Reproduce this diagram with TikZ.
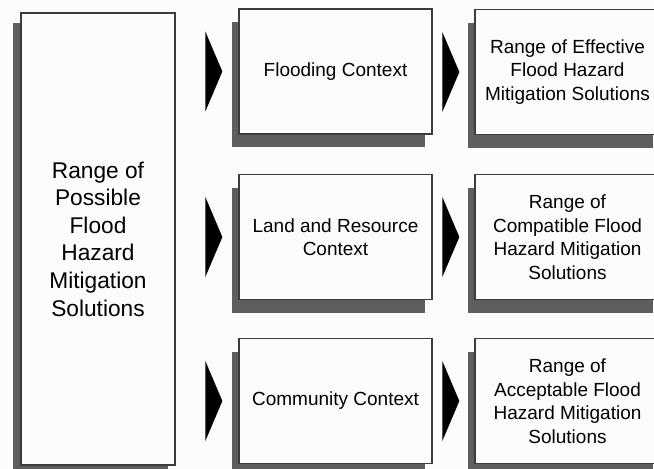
\documentclass[tikz,border=0pt]{standalone}
\usepackage{fontspec}
\setmainfont{Liberation Sans}
\usetikzlibrary{shadows,calc}
\definecolor{bg}{HTML}{FCFCFC}
\definecolor{framec}{HTML}{3C3C3C}
\definecolor{shadowc}{HTML}{5E5E5E}
\tikzset{
  box/.style={draw=framec, line width=1.3pt, fill=bg, rectangle, inner sep=0pt, align=center,
    font=\fontsize{19}{23.5}\selectfont,
    general shadow={shadow xshift=-7pt, shadow yshift=-13pt, fill=shadowc, draw=none}},
  bigbox/.style={box, font=\fontsize{22.7}{27.6}\selectfont,
    general shadow={shadow xshift=-8pt, shadow yshift=-10pt, fill=shadowc, draw=none}},
  midbox/.style={box, minimum width=193pt, minimum height=125pt},
  resbox/.style={box, minimum width=185pt, minimum height=125pt},
  tri/.style={fill=black}
}
\begin{document}
\begin{tikzpicture}[x=1pt,y=-1pt]
\useasboundingbox (0,0) rectangle (654,469);
\clip (0,0) rectangle (654,469);
\fill[bg] (0,0) rectangle (654,469);
\node[bigbox, minimum width=154pt, minimum height=452pt] (src) at (98,239)
  {Range of\\Possible\\Flood\\Hazard\\Mitigation\\Solutions};
\node[midbox] (m1) at (335.5,71.5) {Flooding Context};
\node[midbox] (m2) at (335.5,237) {Land and Resource\\Context};
\node[midbox] (m3) at (335.5,401) {Community Context};
\node[resbox] (r1) at (567.5,72) {Range of Effective\\Flood Hazard\\Mitigation Solutions};
\node[resbox] (r2) at (567.5,237) {Range of\\Compatible Flood\\Hazard Mitigation\\Solutions};
\node[resbox] (r3) at (567.5,401) {Range of\\Acceptable Flood\\Hazard Mitigation\\Solutions};
\foreach \m in {m1,m2,m3}{
  \fill[tri] ($(\m.west)+(-33,-40)$) -- ($(\m.west)+(-16,0)$) -- ($(\m.west)+(-33,40)$) -- cycle;
}
\foreach \r in {r1,r2,r3}{
  \fill[tri] ($(\r.west)+(-32,-40)$) -- ($(\r.west)+(-15,0)$) -- ($(\r.west)+(-32,40)$) -- cycle;
}
\end{tikzpicture}
\end{document}
